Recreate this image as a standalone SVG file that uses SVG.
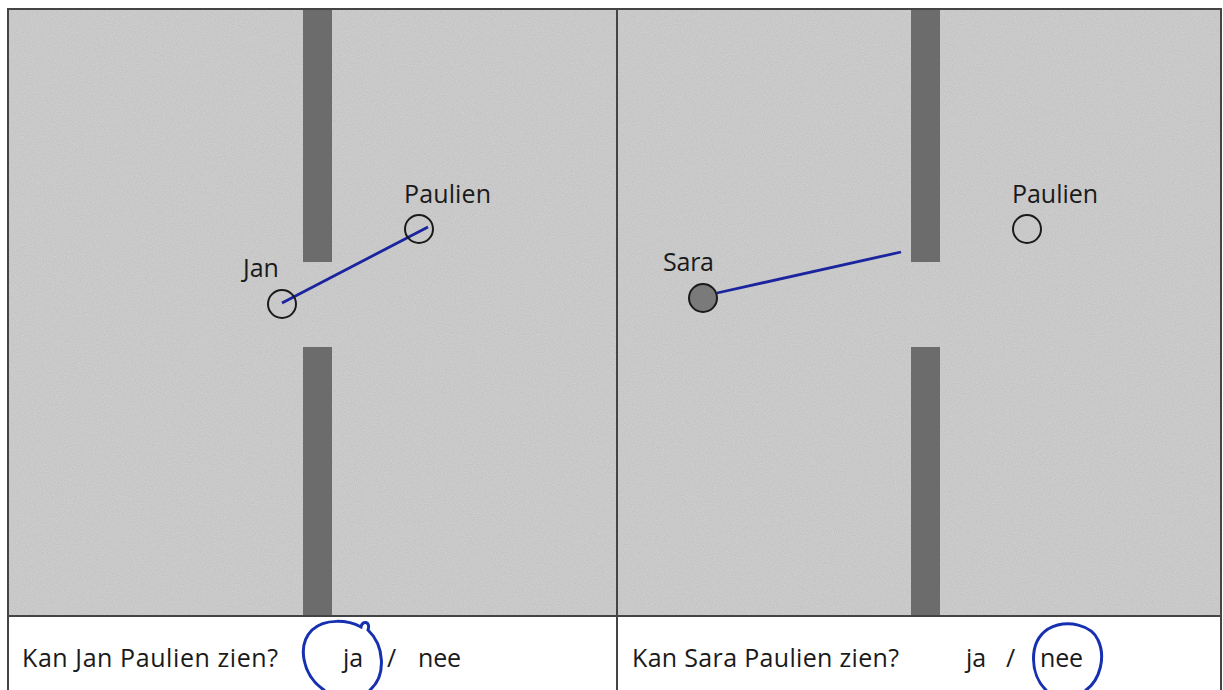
<svg xmlns="http://www.w3.org/2000/svg" width="1223" height="690" viewBox="0 0 1223 690">
<style>
.floor{fill:#c3c3c3}
.wall{fill:#6c6c6c}
.frame{fill:none;stroke:#444;stroke-width:2}
.lbl{font-family:"Open Sans","Noto Sans",sans-serif;font-size:25px;fill:#1a1a1a}
.q{font-family:"Open Sans","Noto Sans",sans-serif;font-size:25px;fill:#1a1a1a}
.person{fill:none;stroke:#1a1a1a;stroke-width:2}
.sight{stroke:#1a249e;stroke-width:2.8;fill:none}
.ink{stroke:#1530b0;stroke-width:3;fill:none;stroke-linecap:round}
</style>
<defs>
<filter id="grain" x="0" y="0" width="100%" height="100%">
<feTurbulence type="fractalNoise" baseFrequency="0.9" numOctaves="2" seed="3"/>
<feColorMatrix type="matrix" values="0 0 0 0 1  0 0 0 0 1  0 0 0 0 1  0 0 0 0.35 -0.08"/>
<feComposite in2="SourceGraphic" operator="in"/>
</filter>
</defs>
<rect width="1223" height="690" fill="#ffffff"/>
<g id="floor">
<rect class="floor" x="8" y="10" width="609" height="606"/>
<rect class="floor" x="617" y="10" width="604" height="606"/>
<rect x="8" y="10" width="1213" height="606" fill="#000" filter="url(#grain)"/>
</g>
<g id="walls">
<rect class="wall" x="303" y="10" width="29" height="252"/>
<rect class="wall" x="303" y="347" width="29" height="269"/>
<rect class="wall" x="911" y="10" width="29" height="252"/>
<rect class="wall" x="911" y="347" width="29" height="269"/>
</g>
<g id="frame">
<path class="frame" d="M8 690 V9 H1221 V690"/>
<line class="frame" x1="617" y1="9" x2="617" y2="690"/>
<line class="frame" x1="8" y1="616" x2="1221" y2="616"/>
</g>
<g id="connectors">
<line class="sight" x1="282" y1="303" x2="428" y2="227"/>
<line class="sight" x1="717" y1="293" x2="901" y2="252"/>
</g>
<g id="jan">
<circle class="person" cx="282" cy="304" r="14"/>
<text class="lbl" x="243" y="277">Jan</text>
</g>
<g id="paulien-left">
<circle class="person" cx="419" cy="229" r="14"/>
<text class="lbl" x="404" y="203" textLength="87">Paulien</text>
</g>
<g id="sara">
<circle class="person" cx="703" cy="298" r="14" style="fill:#7a7a7a"/>
<text class="lbl" x="663" y="271" textLength="51">Sara</text>
</g>
<g id="paulien-right">
<circle class="person" cx="1027" cy="229" r="14"/>
<text class="lbl" x="1012" y="203" textLength="86">Paulien</text>
</g>
<g id="question-left">
<text class="q" x="22" y="667" textLength="256">Kan Jan Paulien zien?</text>
<text class="q" x="343" y="667">ja</text>
<text class="q" x="387" y="667">/</text>
<text class="q" x="418" y="667" textLength="43">nee</text>
<path class="ink" d="M324 690 C302 675 297 645 312 630 C325 618 348 620 361 627 C362 620 371 621 368 630 C384 645 387 675 370 690"/>
</g>
<g id="question-right">
<text class="q" x="632" y="667" textLength="267">Kan Sara Paulien zien?</text>
<text class="q" x="966" y="667">ja</text>
<text class="q" x="1006" y="667">/</text>
<text class="q" x="1040" y="667" textLength="43">nee</text>
<path class="ink" d="M1046 690 C1030 675 1028 642 1048 629 C1068 618 1092 626 1098 640 C1106 657 1100 680 1086 690"/>
</g>
</svg>
